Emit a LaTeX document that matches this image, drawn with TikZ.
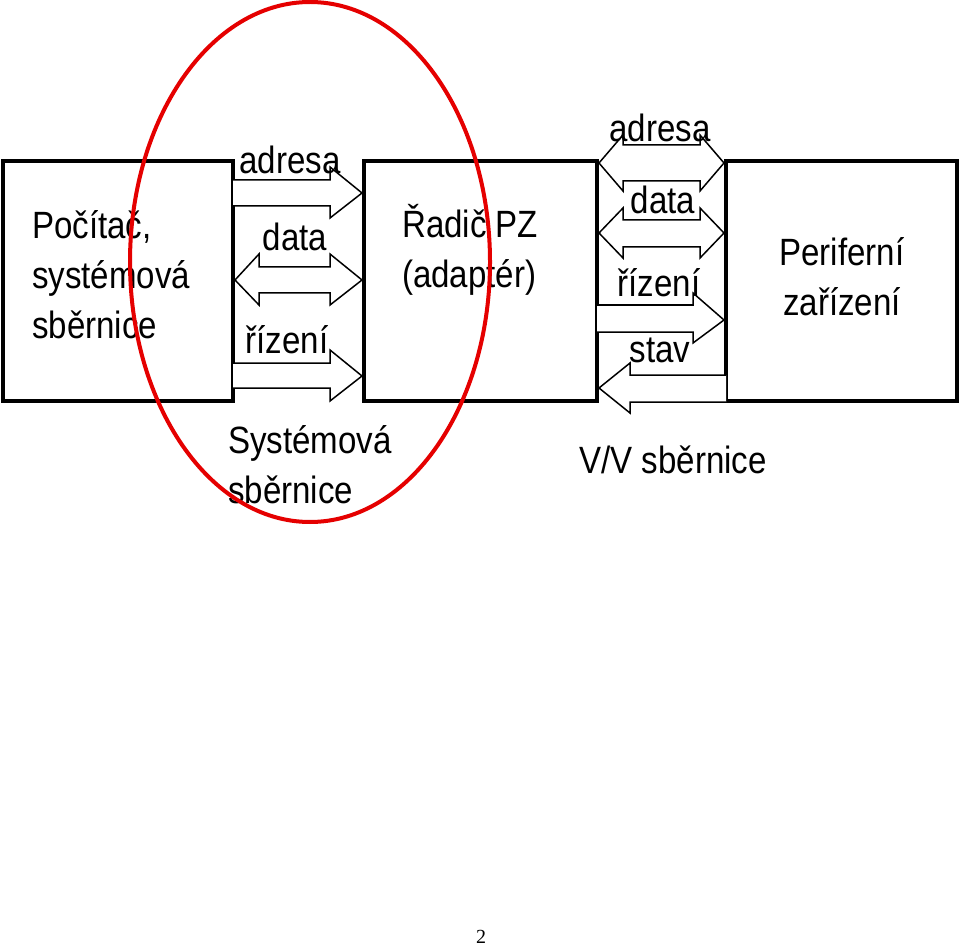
\documentclass[tikz,border=0pt]{standalone}
\usepackage{fontspec}
\setmainfont[FakeStretch=0.87]{Liberation Sans}
\newfontfamily\pagefont{Liberation Serif}
\usetikzlibrary{positioning}
\tikzset{blok/.style={draw,line width=4pt},
	sipka/.style={draw,line width=1.5pt,fill=white,line join=miter},
	popis/.style={font=\fontsize{38}{50}\selectfont,inner sep=0pt},
	vlevo/.style={popis,align=left,anchor=west}}
\begin{document}
\begin{tikzpicture}[x=1pt,y=-1pt]
		\useasboundingbox (0,0) rectangle (960,949);
		% bloky
		\draw[blok] (3,161) rectangle (233,401);
		\draw[blok] (364,161) rectangle (597,401);
		\draw[blok] (726,161) rectangle (957,401);
		% systemova sbernice
		\draw[sipka] (233,180)--(330,180)--(330,167)--(362,193)--(330,218)--(330,206)--(233,206);
		\draw[sipka] (235,280)--(259,254)--(259,267)--(330,267)--(330,254)--(362,280)--(330,305)--(330,293)--(259,293)--(259,305)--cycle;
		\draw[sipka] (233,363)--(330,363)--(330,350)--(362,376)--(330,401)--(330,388)--(233,388);
		% V/V sbernice
		\draw[sipka] (599,163)--(623,135)--(623,145)--(700,145)--(700,135)--(724,163)--(700,191)--(700,181)--(623,181)--(623,191)--cycle;
		\draw[sipka] (599,233)--(623,208)--(623,220)--(700,220)--(700,208)--(724,233)--(700,258)--(700,247)--(623,247)--(623,258)--cycle;
		\draw[sipka] (597,305)--(693,305)--(693,293)--(724,320)--(693,343)--(693,332)--(597,332);
		\draw[sipka] (726,375)--(630,375)--(630,363)--(599,388)--(630,413)--(630,402)--(726,402);
		% popisy
		\node[popis] (adr1) at (290,160) {adresa};
		\node[popis] (dat1) at (295,237) {data};
		\node[popis] (riz1) at (287,340) {řízení};
		\node[popis] (adr2) at (660,128) {adresa};
		\node[popis] (dat2) at (663,200) {data};
		\node[popis] (riz2) at (659,283) {řízení};
		\node[popis] (stav) at (660,350) {stav};
		\node[vlevo] (pc) at (32,275) {Počítač,\\systémová\\sběrnice};
		\node[vlevo] (radic) at (402,250) {Řadič PZ\\(adaptér)};
		\node[popis,align=center] (pz) at (842,277) {Periferní\\zařízení};
		\node[vlevo] (ss) at (228,465) {Systémová\\sběrnice};
		\node[popis] (vv) at (673,460) {V/V sběrnice};
		\node[font=\pagefont\fontsize{20}{22}\selectfont,inner sep=0pt] (str) at (481,937) {2};
		% kruh
		\draw[red!90!black,line width=4pt] (310,262) ellipse (180 and 260);
\end{tikzpicture}
\end{document}
